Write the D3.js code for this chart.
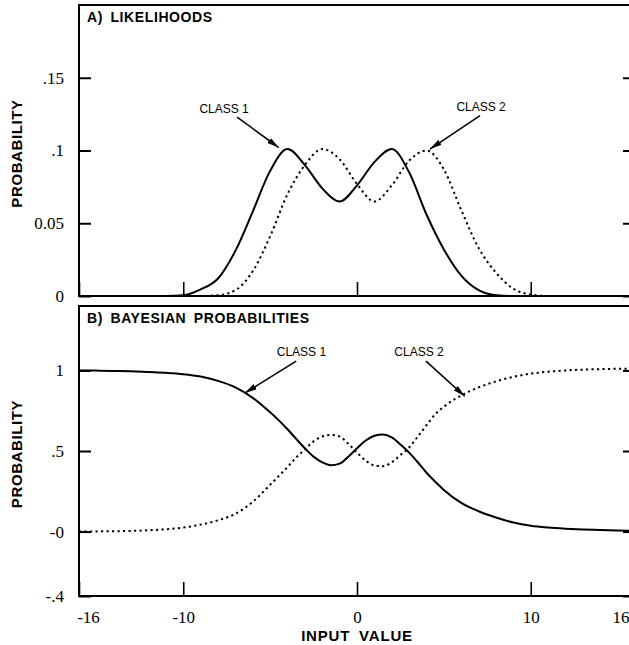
<!DOCTYPE html>
<html>
<head>
<meta charset="utf-8">
<script src="https://cdn.jsdelivr.net/npm/d3@7"></script>
<style>
  body { margin: 0; background: #fff; }
  svg { display: block; }
  .tick text { font-family: "Liberation Serif", "DejaVu Serif", serif; font-size: 17px; fill: #000; }
  .lbl { font-family: "Liberation Sans", Arial, sans-serif; font-weight: bold; fill: #000; }
  .ann { font-family: "Liberation Sans", Arial, sans-serif; font-size: 12px; fill: #000; }
</style>
</head>
<body>
<div id="chart"></div>
<script>
// x positions for the likelihood panel
var xsTop = [-16, -15, -14, -13, -12, -11, -10, -9, -8, -7, -6, -5, -4, -3, -2, -1, 0,
             1, 2, 3, 4, 5, 6, 7, 8, 9, 10, 11, 12, 13, 14, 15, 16];
var likeClass1 = [0, 0, 0, 0, 0, 0, 0.0005, 0.0045, 0.012, 0.031, 0.058, 0.086, 0.101, 0.09, 0.074, 0.065, 0.076,
                  0.092, 0.101, 0.085, 0.056, 0.032, 0.014, 0.004, 0.0005, 0, 0, 0, 0, 0, 0, 0, 0];
var likeClass2 = [0, 0, 0, 0, 0, 0, 0, 0, 0.0005, 0.004, 0.017, 0.041, 0.07, 0.09, 0.101, 0.094, 0.077,
                  0.065, 0.076, 0.093, 0.1, 0.087, 0.059, 0.033, 0.016, 0.005, 0.001, 0, 0, 0, 0, 0, 0];

// x positions for the posterior panel
var xsBot = [-16, -15, -14, -13, -12, -11, -10, -9, -8, -7, -6, -5, -4.5, -4, -3.5, -3, -2.5, -2, -1.5, -1, -0.5, 0,
             0.5, 1, 1.5, 2, 2.5, 3, 3.5, 4, 4.5, 5, 6, 7, 8, 9, 10, 11, 12, 13, 14, 15, 16];
var postClass1 = [1.0, 0.999, 0.997, 0.995, 0.99, 0.985, 0.977, 0.962, 0.935, 0.895, 0.83, 0.74, 0.69, 0.635, 0.575, 0.517, 0.465, 0.43, 0.412, 0.422, 0.465, 0.517,
                  0.565, 0.595, 0.603, 0.585, 0.54, 0.49, 0.43, 0.365, 0.31, 0.258, 0.178, 0.126, 0.087, 0.056, 0.036, 0.025, 0.018, 0.013, 0.01, 0.007, 0.005];
var postClass2 = [0, 0.001, 0.002, 0.004, 0.008, 0.014, 0.025, 0.043, 0.07, 0.11, 0.185, 0.29, 0.345, 0.4, 0.46, 0.51, 0.56, 0.59, 0.6, 0.59, 0.545, 0.49,
                  0.44, 0.41, 0.405, 0.43, 0.475, 0.522, 0.59, 0.66, 0.728, 0.775, 0.845, 0.895, 0.932, 0.96, 0.98, 0.992, 1.0, 1.005, 1.008, 1.01, 1.01];

var xTicks = [-16, -10, 0, 10, 16];
var xTickLabels = ["-16", "-10", "0", "10", "16"];
var topTicks = [0, 0.05, 0.1, 0.15];
var topTickLabels = ["0", "0.05", ".1", ".15"];
var botTicks = [-0.4, 0, 0.5, 1];
var botTickLabels = ["-.4", "-0", ".5", "1"];

// annotation labels, in data units: text spot, arrow start, arrow tip
var topNotes = [
  { text: "CLASS 1", tx: -7.65, ty: 0.126, x1: -6.9, y1: 0.123, x2: -4.5, y2: 0.102 },
  { text: "CLASS 2", tx: 7.14, ty: 0.127, x1: 7.08, y1: 0.124, x2: 4.2, y2: 0.101 }
];
var botNotes = [
  { text: "CLASS 1", tx: -3.2, ty: 1.09, x1: -3.5, y1: 1.058, x2: -6.45, y2: 0.86 },
  { text: "CLASS 2", tx: 3.57, ty: 1.09, x1: 3.97, y1: 1.058, x2: 6.2, y2: 0.84 }
];

var width = 629, height = 645;

var svg = d3.select("#chart").append("svg")
    .attr("width", width)
    .attr("height", height);

svg.append("defs").append("marker")
    .attr("id", "arrow")
    .attr("viewBox", "0 0 12 6")
    .attr("refX", 12)
    .attr("refY", 3)
    .attr("markerWidth", 12)
    .attr("markerHeight", 6)
    .attr("markerUnits", "userSpaceOnUse")
    .attr("orient", "auto")
    .append("path")
    .attr("d", "M0,0 L12,3 L0,6 Z")
    .attr("fill", "#000");

var x = d3.scaleLinear().domain([-16, 16]).range([79, 635]);
var yTop = d3.scaleLinear().domain([0, 0.2]).range([296, 5]);
var yBot = d3.scaleLinear().domain([-0.4, 1.4]).range([596, 306]);

function label(values, labels) {
    return function(d) { return labels[values.indexOf(d)]; };
}

function drawPanel(y, xs, s1, s2, ticks, tickLabels, notes, title) {
    var g = svg.append("g");
    var r = y.range();

    // frame
    g.append("rect")
        .attr("x", x(-16))
        .attr("y", r[1])
        .attr("width", x(16) - x(-16))
        .attr("height", r[0] - r[1])
        .attr("fill", "none")
        .attr("stroke", "#000")
        .attr("stroke-width", 2);

    var line = d3.line()
        .x(function(d) { return x(d[0]); })
        .y(function(d) { return y(d[1]); })
        .curve(d3.curveMonotoneX);

    g.append("path")
        .datum(xs.map(function(v, i) { return [v, s1[i]]; }))
        .attr("d", line)
        .attr("fill", "none")
        .attr("stroke", "#000")
        .attr("stroke-width", 2);

    g.append("path")
        .datum(xs.map(function(v, i) { return [v, s2[i]]; }))
        .attr("d", line)
        .attr("fill", "none")
        .attr("stroke", "#000")
        .attr("stroke-width", 2)
        .attr("stroke-dasharray", "2.2,3.3");

    notes.forEach(function(n) {
        g.append("text")
            .attr("class", "ann")
            .attr("x", x(n.tx))
            .attr("y", y(n.ty))
            .attr("text-anchor", "middle")
            .text(n.text);
        g.append("line")
            .attr("x1", x(n.x1)).attr("y1", y(n.y1))
            .attr("x2", x(n.x2)).attr("y2", y(n.y2))
            .attr("stroke", "#000")
            .attr("stroke-width", 1.6)
            .attr("marker-end", "url(#arrow)");
    });

    g.append("text")
        .attr("class", "lbl")
        .attr("x", x(-16) + 8)
        .attr("y", r[1] + 17)
        .style("font-size", "14px")
        .style("letter-spacing", "0.6px")
        .style("word-spacing", "3px")
        .text(title);

    g.append("text")
        .attr("class", "lbl")
        .attr("transform", "translate(22," + ((r[0] + r[1]) / 2 + 3) + ") rotate(-90)")
        .attr("text-anchor", "middle")
        .style("font-size", "15px")
        .style("letter-spacing", "0.6px")
        .text("PROBABILITY");

    // left axis, ticks inward
    g.append("g")
        .attr("transform", "translate(" + x(-16) + ",0)")
        .call(d3.axisLeft(y).tickValues(ticks).tickSize(-12).tickSizeOuter(0).tickPadding(15)
            .tickFormat(label(ticks, tickLabels)))
        .call(function(a) {
            a.select(".domain").remove();
            a.selectAll(".tick line").attr("stroke-width", 2);
        });

    // right axis ticks
    g.append("g")
        .attr("transform", "translate(" + x(16) + ",0)")
        .call(d3.axisRight(y).tickValues(ticks).tickSize(-12).tickFormat(""))
        .call(function(a) {
            a.select(".domain").remove();
            a.selectAll(".tick line").attr("stroke-width", 2);
        });
    return g;
}

function drawXAxis(g, y, showXLabels) {
    g.append("g")
        .attr("transform", "translate(0," + y.range()[0] + ")")
        .call(d3.axisBottom(x).tickValues(xTicks).tickSize(-14).tickPadding(15)
            .tickFormat(showXLabels ? label(xTicks, xTickLabels) : ""))
        .call(function(a) {
            a.select(".domain").remove();
            a.selectAll(".tick line").attr("stroke-width", 1.6);
            // end labels sit a little inside the frame corners
            a.selectAll(".tick text").filter(function(d) { return d === 16; })
                .attr("text-anchor", "end").attr("dx", "-6");
            a.selectAll(".tick text").filter(function(d) { return d === -16; })
                .attr("dx", "9");
        });
}

var gTop = drawPanel(yTop, xsTop, likeClass1, likeClass2, topTicks, topTickLabels, topNotes, "A) LIKELIHOODS");
var gBot = drawPanel(yBot, xsBot, postClass1, postClass2, botTicks, botTickLabels, botNotes, "B) BAYESIAN PROBABILITIES");

svg.append("text")
    .attr("class", "lbl")
    .attr("x", x(0))
    .attr("y", 641)
    .attr("text-anchor", "middle")
    .style("font-size", "15px")
    .style("letter-spacing", "0.8px")
    .style("word-spacing", "4px")
    .text("INPUT VALUE");

drawXAxis(gTop, yTop, false);
drawXAxis(gBot, yBot, true);
</script>
</body>
</html>
